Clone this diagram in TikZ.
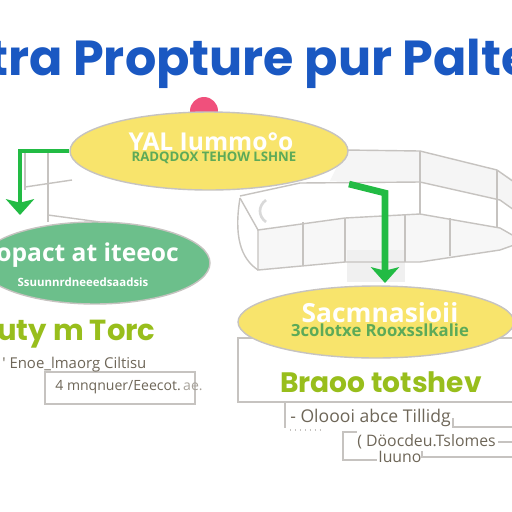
\documentclass[tikz,border=0pt]{standalone}
\usepackage{fontspec}
\setsansfont{Poppins}
\newfontfamily\osans{Open Sans}
\usetikzlibrary{shapes.geometric,arrows.meta}
\definecolor{ttlblue}{HTML}{1A58C2}
\definecolor{ylw}{HTML}{F8E46C}
\definecolor{grnE}{HTML}{6CBF8B}
\definecolor{arrg}{HTML}{22BB44}
\definecolor{lime}{HTML}{98BE1C}
\definecolor{txg}{HTML}{6E6658}
\definecolor{lng}{HTML}{C6C3C0}
\definecolor{pnk}{HTML}{F0507C}
\definecolor{gtx}{HTML}{5DAA58}
\begin{document}
\begin{tikzpicture}[x=0.02cm,y=-0.02cm,
  ellip/.style={ellipse, draw=lng, line width=0.8pt, inner sep=0pt},
  bandline/.style={draw=lng, line width=0.8pt},
  garrow/.style={draw=arrg, line join=miter, -{Stealth[length=9pt,width=16pt,inset=2pt]}},
  wtxt/.style={text=white, font=\osans\bfseries},
  annot/.style={text=txg, font=\osans\fontsize{8}{9}\selectfont, inner sep=0pt},
  aline/.style={draw=lng, line width=0.8pt}]
\useasboundingbox[fill=white] (0,0) rectangle (512,512);
% title
\node[text=ttlblue, font=\sffamily\bfseries\fontsize{28}{34}\selectfont, inner sep=0pt] (title) at (260,64) {tra Propture pur Palte};
% band (right)
\fill[black!4] (345,150) -- (420,151) -- (497,170) -- (514,180) -- (514,210) -- (500,200) -- (420,182) -- (330,181) -- cycle;
\fill[black!3] (258,230) -- (345,218) -- (420,214) -- (500,228) -- (514,236) -- (514,245) -- (500,250) -- (420,262) -- (345,262) -- (258,270) -- cycle;
\fill[black!6] (347,250) rectangle (405,282);
\draw[bandline] (300,160) -- (345,150) -- (420,151) -- (497,170) -- (514,182);
\draw[bandline] (240,196) -- (300,183) -- (420,182) -- (500,200) -- (514,210);
\draw[bandline] (420,151) -- (420,214);
\draw[bandline] (497,170) -- (497,228);
\draw[bandline] (240,198) -- (258,230) -- (345,218) -- (420,214) -- (500,228) -- (514,236);
\draw[bandline] (258,230) -- (258,270) -- (345,262) -- (420,262) -- (500,250) -- (514,245);
\draw[bandline] (240,198) .. controls (234,235) and (240,258) .. (258,270);
\draw[bandline] (303,222) -- (303,266);
\draw[bandline] (345,218) -- (345,262);
\draw[bandline] (405,215) -- (405,262);
\draw[bandline] (450,218) -- (450,256);
\draw[black!15, line width=1.5pt] (266,200) .. controls (258,206) and (258,216) .. (266,222);
% left faint grid
\draw[bandline] (25,153) -- (25,190);
\draw[bandline] (48,153) -- (48,222);
\draw[bandline] (25,187) -- (72,180);
\draw[bandline] (48,215) -- (100,222);
% pink cap
\fill[pnk] (204,111) circle (14);
% ellipses and boxes
\node[ellip, fill=ylw, minimum width=5.56cm, minimum height=1.56cm] (topE) at (209,151) {};
\node[draw=lng, line width=0.8pt, fill=white, minimum width=5.56cm, minimum height=1.28cm] (rbox) at (377,370) {};
\node[ellip, fill=ylw, minimum width=5.52cm, minimum height=1.44cm] (rgtE) at (376,322) {};
\node[ellip, fill=grnE, minimum width=4.6cm, minimum height=1.64cm] (lftE) at (95,263) {};
\node[draw=lng, line width=0.8pt, fill=white, minimum width=3cm, minimum height=0.64cm] (lbox) at (120,388) {};
% connectors
\coordinate (la) at (20,215);
\draw[garrow, line width=2.8pt] (topE.west) -| (la);
\coordinate (rs) at (349,184);
\coordinate (rk) at (385,193);
\coordinate (ra) at (385,283);
\draw[garrow, line width=3.8pt] (rs) -- (rk) -- (ra);
% texts in top ellipse
\node[wtxt, font=\osans\bfseries\fontsize{14}{16}\selectfont, inner sep=0pt] (t1) at (211,142) {YAL Iummo°o};
\node[text=gtx, font=\osans\bfseries\fontsize{7.5}{9}\selectfont, inner sep=0pt] (t2) at (214,158) {RADQDOX TEHOW LSHNE};
% texts in left ellipse
\node[wtxt, font=\osans\bfseries\fontsize{14}{17}\selectfont, inner sep=0pt, anchor=west] (t3) at (-4,255) {opact at iteeoc};
\node[wtxt, font=\osans\bfseries\fontsize{6.5}{8}\selectfont, inner sep=0pt] (t4) at (83,282) {Ssuunnrdneeedsaadsis};
% left lower texts
\node[text=lime, font=\sffamily\bfseries\fontsize{16.5}{19}\selectfont, inner sep=0pt, anchor=west] (t5) at (-3,334) {uty m Torc};
\node[annot, font=\osans\fontsize{8.5}{10}\selectfont, anchor=west] (t6) at (2,365) {' Enoe\_lmaorg Ciltisu};
\node[annot, anchor=west] (t7) at (55,387) {4 mnqnuer/Eeecot.\,{\color{txg!60}ae.}};
% right texts
\node[wtxt, font=\osans\bfseries\fontsize{15}{18}\selectfont, inner sep=0pt] (t8) at (380,313) {Sacmnasioii};
\node[text=gtx, font=\osans\bfseries\fontsize{9.5}{11}\selectfont, inner sep=0pt] (t9) at (380,330) {3colotxe Rooxsslkalie};
\node[text=lime, font=\sffamily\bfseries\fontsize{16}{19}\selectfont, inner sep=0pt] (t10) at (381,382) {Braoo totshev};
% lower right annotations
\node[annot, font=\osans\fontsize{10}{12}\selectfont, anchor=west] (a1) at (290,418) {- Oloooi abce Tillidg};
\node[annot, font=\osans\fontsize{9}{11}\selectfont, anchor=west] (a2) at (357,442) {( Döocdeu.Tslomes};
\node[annot, font=\osans\fontsize{9}{11}\selectfont, anchor=west] (a3) at (378,457) {Iuuno};
\draw[aline] (285,402) -- (285,428);
\draw[aline, dotted] (290,430) -- (320,430);
\draw[aline] (a1.east) ++(2,0) |- (514,427);
\draw[aline] (357,432) -- (343,432) -- (343,460) -- (377,460);
\draw[aline] (a2.east) ++(2,0) -- (514,442);
\draw[aline] (422,451) -- (422,457) -- (514,457);
\end{tikzpicture}
\end{document}
